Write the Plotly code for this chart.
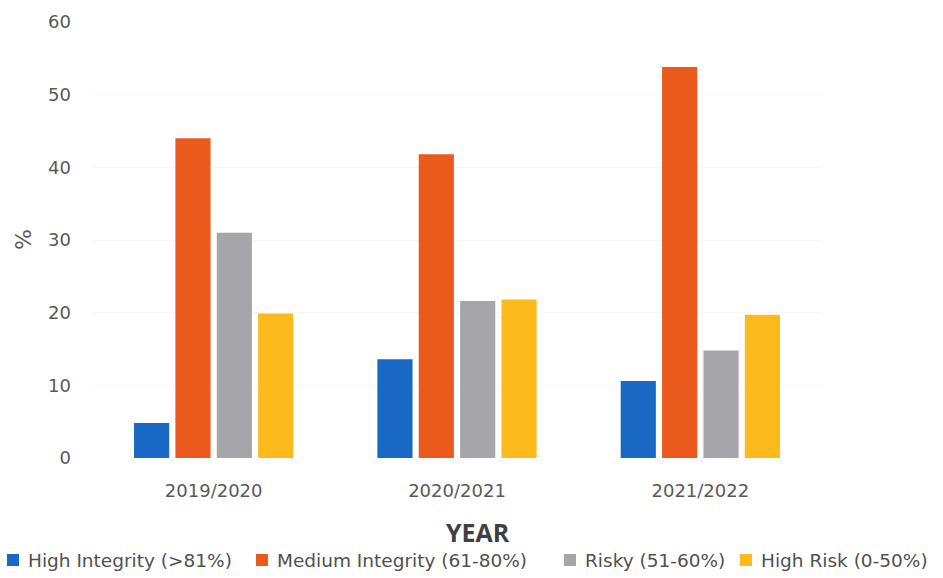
import plotly.graph_objects as go

years = ["2019/2020", "2020/2021", "2021/2022"]
high_integrity = [4.8, 13.6, 10.6]
medium_integrity = [44.0, 41.8, 53.8]
risky = [31.0, 21.6, 14.8]
high_risk = [19.9, 21.8, 19.7]

series = [
    ("High Integrity (>81%)", high_integrity, "#1868c4"),
    ("Medium Integrity (61-80%)", medium_integrity, "#ea5a1c"),
    ("Risky (51-60%)", risky, "#a5a5aa"),
    ("High Risk (0-50%)", high_risk, "#fdba1c"),
]

font_family = "DejaVu Sans, sans-serif"

# plot area in pixels (fixed margins)
W, H = 943, 578
L, R, T, B = 92, 121, 22, 120
pw, ph = W - L - R, H - T - B


def px_x(x):
    return (x - L) / pw


def px_y(y):
    return (H - B - y) / ph


fig = go.Figure()
for name, vals, color in series:
    fig.add_trace(go.Bar(x=years, y=vals, name=name, showlegend=False,
                         marker=dict(color=color, line=dict(width=0))))

# legend drawn by hand so it stays on one line like the original
legend_x = [7, 256, 564, 740]
legend_y = 560
shapes = []
annotations = []
for (name, _, color), lx in zip(series, legend_x):
    shapes.append(dict(type="rect", xref="paper", yref="paper",
                       x0=px_x(lx), x1=px_x(lx + 12), y0=px_y(legend_y + 6), y1=px_y(legend_y - 6),
                       fillcolor=color, line=dict(width=0)))
    annotations.append(dict(text=name, x=px_x(lx + 19), y=px_y(legend_y), xref="paper", yref="paper",
                            xanchor="left", yanchor="middle", showarrow=False,
                            font=dict(size=18.5, color="#505050")))

annotations.append(dict(text="%", x=px_x(23), xref="paper", y=px_y(240), yref="paper", showarrow=False,
                        textangle=-90, font=dict(size=22, color="#595959"), xanchor="center"))
annotations.append(dict(text="<b>YEAR</b>", x=px_x(478), xref="paper", y=px_y(532), yref="paper",
                        showarrow=False, font=dict(family="Open Sans, sans-serif", size=25, color="#404040"),
                        yanchor="middle"))

fig.update_layout(
    width=W,
    height=H,
    margin=dict(l=L, r=R, t=T, b=B),
    barmode="group",
    bargap=0.32,
    bargroupgap=0.15,
    plot_bgcolor="white",
    paper_bgcolor="white",
    font=dict(family=font_family, color="#595959", size=16),
    showlegend=False,
    shapes=shapes,
    annotations=annotations,
)

fig.update_xaxes(showgrid=False, showline=False, ticks="", ticklabelstandoff=20,
                 tickfont=dict(size=18, color="#595959"), automargin=False)
fig.update_yaxes(range=[0, 60], dtick=10, showgrid=True, gridcolor="#f7f7f7",
                 zeroline=False, showline=False, ticks="", ticklabelstandoff=20,
                 tickfont=dict(size=18, color="#595959"), automargin=False)

fig.write_html("out.html", config={"displayModeBar": False},
               post_script="document.body.style.margin='0';")
